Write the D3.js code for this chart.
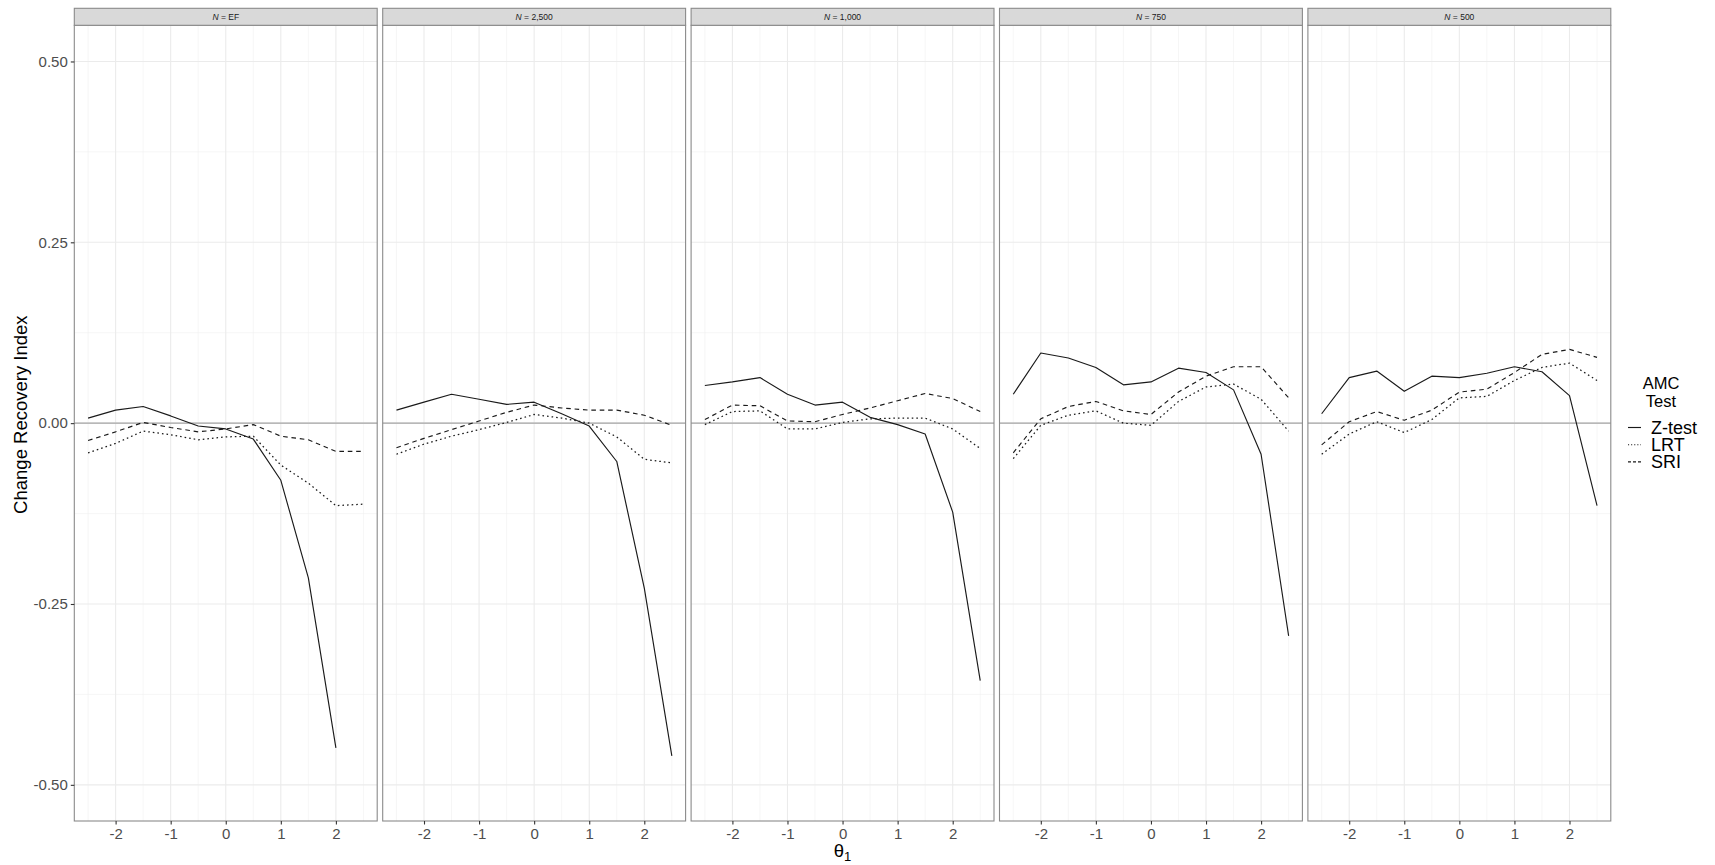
<!DOCTYPE html>
<html>
<head>
<meta charset="utf-8">
<script src="https://cdn.jsdelivr.net/npm/d3@7"></script>
<style>
  html, body { margin: 0; padding: 0; background: #ffffff; }
  svg { display: block; font-family: "Liberation Sans", Arial, Helvetica, sans-serif; }
</style>
</head>
<body>
<svg id="chart" width="1715" height="865"></svg>
<script>
// Sample-size facets, left to right
const panelLabels = ["EF", "2,500", "1,000", "750", "500"];

// Ability levels on the horizontal axis
const theta = [-2.5, -2, -1.5, -1, -0.5, 0, 0.5, 1, 1.5, 2, 2.5];

// Axis ticks
const xTicks = [-2, -1, 0, 1, 2];
const yTicks = [0.5, 0.25, 0, -0.25, -0.5];
const yTickLabels = ["0.50", "0.25", "0.00", "-0.25", "-0.50"];

// AMC tests shown in the legend
const testNames = ["Z-test", "LRT", "SRI"];

// Change recovery index per panel (rows) at each theta (columns)
const zTest = [
  [0.007, 0.018, 0.023, 0.010, -0.004, -0.008, -0.022, -0.079, -0.214, -0.449, null],
  [0.018, 0.029, 0.040, 0.033, 0.026, 0.029, 0.013, -0.004, -0.053, -0.228, -0.460],
  [0.052, 0.057, 0.063, 0.040, 0.025, 0.029, 0.008, -0.002, -0.015, -0.123, -0.356],
  [0.040, 0.097, 0.090, 0.077, 0.053, 0.057, 0.076, 0.070, 0.046, -0.043, -0.294],
  [0.013, 0.063, 0.072, 0.044, 0.065, 0.063, 0.069, 0.078, 0.071, 0.038, -0.114]
];
const lrt = [
  [-0.041, -0.028, -0.011, -0.016, -0.023, -0.019, -0.018, -0.058, -0.083, -0.114, -0.112],
  [-0.043, -0.029, -0.018, -0.009, 0.001, 0.012, 0.007, 0.000, -0.019, -0.050, -0.055],
  [-0.002, 0.016, 0.017, -0.008, -0.008, 0.001, 0.006, 0.007, 0.007, -0.008, -0.035],
  [-0.049, -0.003, 0.011, 0.017, 0.000, -0.003, 0.030, 0.050, 0.054, 0.033, -0.011],
  [-0.043, -0.015, 0.002, -0.013, 0.005, 0.035, 0.037, 0.059, 0.077, 0.083, 0.059]
];
const sri = [
  [-0.024, -0.012, 0.001, -0.006, -0.012, -0.008, -0.002, -0.018, -0.023, -0.039, -0.039],
  [-0.034, -0.021, -0.009, 0.003, 0.015, 0.025, 0.021, 0.018, 0.018, 0.011, -0.003],
  [0.005, 0.025, 0.024, 0.003, 0.002, 0.012, 0.021, 0.031, 0.041, 0.034, 0.016],
  [-0.041, 0.006, 0.023, 0.030, 0.017, 0.012, 0.043, 0.065, 0.078, 0.078, 0.035],
  [-0.030, 0.002, 0.016, 0.004, 0.018, 0.043, 0.047, 0.070, 0.095, 0.102, 0.091]
];

const seriesValues = [zTest, lrt, sri];
const dashStyles = [null, "1.6,3", "4.6,3.8"];

const svg = d3.select("#chart");

// Layout
const plotLeft = 74.3, plotRight = 1610.8;
const gap = 5.5;
const nPanels = panelLabels.length;
const panelW = (plotRight - plotLeft - gap * (nPanels - 1)) / nPanels;
const stripTop = 8.3, stripBottom = 25.3, panelBottom = 821;

const y = d3.scaleLinear().domain([-0.55, 0.55]).range([panelBottom, stripBottom]);
const yMinor = [0.375, 0.125, -0.125, -0.375];
const xMinor = [-2.5, -1.5, -0.5, 0.5, 1.5, 2.5];

const lineColor = "#1a1a1a";
const textGrey = "#4d4d4d";
const borderColor = "#8a8a8a";

panelLabels.forEach((lab, p) => {
  const x0 = plotLeft + p * (panelW + gap);
  const x = d3.scaleLinear().domain([-2.75, 2.75]).range([x0, x0 + panelW]);
  const g = svg.append("g");

  // grid: minor
  g.selectAll(".ymin").data(yMinor).join("line")
    .attr("x1", x0).attr("x2", x0 + panelW)
    .attr("y1", d => y(d)).attr("y2", d => y(d))
    .attr("stroke", "#f0f0f0").attr("stroke-width", 0.6);
  g.selectAll(".xmin").data(xMinor).join("line")
    .attr("x1", d => x(d)).attr("x2", d => x(d))
    .attr("y1", stripBottom).attr("y2", panelBottom)
    .attr("stroke", "#f0f0f0").attr("stroke-width", 0.6);
  // grid: major
  g.selectAll(".ymaj").data(yTicks).join("line")
    .attr("x1", x0).attr("x2", x0 + panelW)
    .attr("y1", d => y(d)).attr("y2", d => y(d))
    .attr("stroke", "#ebebeb").attr("stroke-width", 1.1);
  g.selectAll(".xmaj").data(xTicks).join("line")
    .attr("x1", d => x(d)).attr("x2", d => x(d))
    .attr("y1", stripBottom).attr("y2", panelBottom)
    .attr("stroke", "#ebebeb").attr("stroke-width", 1.1);

  // reference line at zero
  g.append("line")
    .attr("x1", x0).attr("x2", x0 + panelW)
    .attr("y1", y(0)).attr("y2", y(0))
    .attr("stroke", "#a6a6a6").attr("stroke-width", 1.2);

  // series lines
  seriesValues.forEach((ser, s) => {
    const pts = theta.map((t, i) => ({ t, v: ser[p][i] }));
    const line = d3.line()
      .defined(d => d.v !== null)
      .x(d => x(d.t)).y(d => y(d.v));
    const path = g.append("path")
      .datum(pts)
      .attr("d", line)
      .attr("fill", "none")
      .attr("stroke", lineColor)
      .attr("stroke-width", s === 1 ? 1.25 : 1.15)
      .attr("stroke-linejoin", "round");
    if (dashStyles[s]) path.attr("stroke-dasharray", dashStyles[s]);
  });

  // panel border
  g.append("rect")
    .attr("x", x0).attr("y", stripBottom)
    .attr("width", panelW).attr("height", panelBottom - stripBottom)
    .attr("fill", "none").attr("stroke", borderColor).attr("stroke-width", 1.1);

  // strip
  g.append("rect")
    .attr("x", x0).attr("y", stripTop)
    .attr("width", panelW).attr("height", stripBottom - stripTop)
    .attr("fill", "#d9d9d9").attr("stroke", borderColor).attr("stroke-width", 1.1);
  const st = g.append("text")
    .attr("x", x0 + panelW / 2).attr("y", (stripTop + stripBottom) / 2 + 3)
    .attr("text-anchor", "middle")
    .attr("font-size", 8.5).attr("fill", "#1a1a1a");
  st.append("tspan").attr("font-style", "italic").text("N");
  st.append("tspan").text(" = " + lab);

  // x axis
  const xAxis = d3.axisBottom(x).tickValues(xTicks).tickSize(3.5).tickPadding(4)
    .tickFormat(d => d3.format("d")(d).replace("−", "-"));
  const ax = g.append("g").attr("transform", `translate(0,${panelBottom})`).call(xAxis);
  ax.select(".domain").remove();
  ax.selectAll(".tick line").attr("stroke", "#333").attr("stroke-width", 1.1);
  ax.selectAll(".tick text").attr("fill", textGrey).attr("font-size", 15)
    .attr("font-family", "Liberation Sans, Arial, sans-serif");
});

// y axis on the first panel
const yAxis = d3.axisLeft(y).tickValues(yTicks).tickSize(3.5).tickPadding(3)
  .tickFormat((d, i) => yTickLabels[i]);
const ay = svg.append("g").attr("transform", `translate(${plotLeft},0)`).call(yAxis);
ay.select(".domain").remove();
ay.selectAll(".tick line").attr("stroke", "#333").attr("stroke-width", 1.1);
ay.selectAll(".tick text").attr("fill", textGrey).attr("font-size", 15)
  .attr("font-family", "Liberation Sans, Arial, sans-serif");

// axis titles
svg.append("text")
  .attr("transform", `translate(27,${(stripTop + panelBottom) / 2}) rotate(-90)`)
  .attr("text-anchor", "middle")
  .attr("font-size", 18.5).attr("fill", "#000")
  .text("Change Recovery Index");

const xt = svg.append("text")
  .attr("x", (plotLeft + plotRight) / 2).attr("y", 857)
  .attr("text-anchor", "middle")
  .attr("font-size", 18.5).attr("fill", "#000");
xt.append("tspan").text("θ");
xt.append("tspan").attr("font-size", 13).attr("dy", 4).text("1");

// legend
const legX = 1628, legCx = 1661;
svg.append("text").attr("x", legCx).attr("y", 389)
  .attr("text-anchor", "middle").attr("font-size", 16.5).attr("fill", "#000").text("AMC");
svg.append("text").attr("x", legCx).attr("y", 406.5)
  .attr("text-anchor", "middle").attr("font-size", 16.5).attr("fill", "#000").text("Test");

const legend = svg.append("g");
testNames.forEach((name, s) => {
  const cy = 427.5 + s * 17.2;
  const l = legend.append("line")
    .attr("x1", legX).attr("x2", legX + 13)
    .attr("y1", cy).attr("y2", cy)
    .attr("stroke", lineColor).attr("stroke-width", 1.15);
  if (dashStyles[s]) l.attr("stroke-dasharray", s === 1 ? "1.1,2" : "3,2");
  legend.append("text")
    .attr("x", legX + 23).attr("y", cy + 6)
    .attr("font-size", 18).attr("fill", "#000").text(name);
});
</script>
</body>
</html>
